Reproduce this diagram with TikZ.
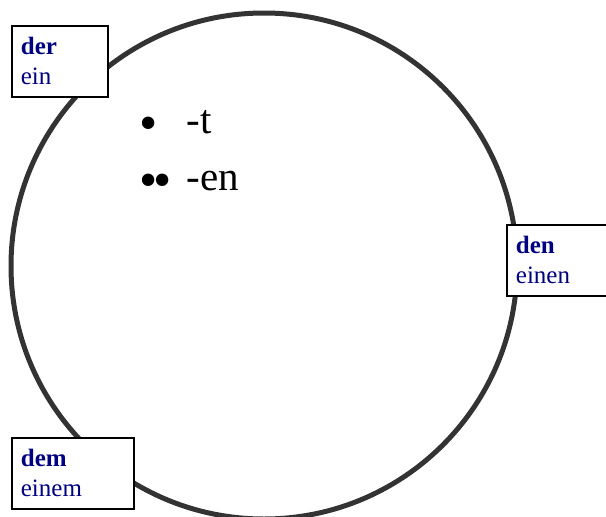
\documentclass[tikz,border=0pt]{standalone}
\usepackage{fontspec}
\setmainfont{Liberation Serif}
\definecolor{kasusblau}{HTML}{000080}
\definecolor{ringgrau}{HTML}{333333}
\newcommand{\punkt}{\raisebox{-7pt}{\fontsize{52}{57}\selectfont\textbullet}}
\begin{document}
\begin{tikzpicture}[
    x=1pt, y=-1pt,
    ring/.style={circle, draw=ringgrau, line width=5pt, minimum size=506pt, inner sep=0pt},
    kasus/.style={draw=black, fill=white, line width=1.8pt, anchor=north west,
        align=left, minimum height=71pt, inner xsep=9pt, text=kasusblau,
        font=\fontsize{25}{30}\selectfont}
]
\useasboundingbox (0,0) rectangle (606,517);
\clip (0,0) rectangle (606,517);
\node[ring] (ring) at (264,266) {};
\node[kasus, text width=78pt] (der) at (11,25) {\textbf{der}\\ein};
\node[kasus, text width=92pt] (den) at (506,224) {\textbf{den}\\einen};
\node[kasus, text width=104pt] (dem) at (11,437) {\textbf{dem}\\einem};
\node[anchor=base west, inner sep=0pt, font=\fontsize{41}{57}\selectfont] (endung) at (139,133)
    {\begin{tabular}[t]{@{}l@{\hspace{15pt}}l@{}}
        \punkt & -t\\
        \punkt\kern-4pt\punkt & -en
    \end{tabular}};
\end{tikzpicture}
\end{document}
